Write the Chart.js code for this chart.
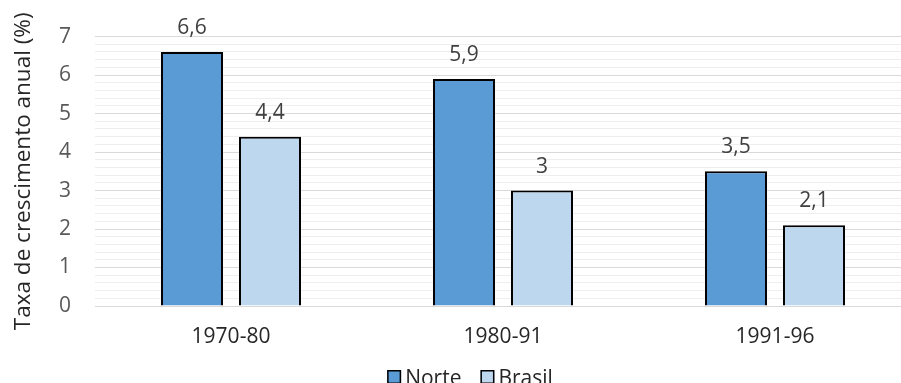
<!DOCTYPE html>
<html>
<head>
<meta charset="utf-8">
<script src="https://cdn.jsdelivr.net/npm/chart.js@4/dist/chart.umd.min.js"></script>
<style>
  html, body { margin: 0; padding: 0; background: #ffffff; overflow: hidden; }
  #frame { width: 901px; height: 383px; overflow: hidden; position: relative; }
  #chart { display: block; }
</style>
</head>
<body>
<div id="frame"><canvas id="chart" width="940" height="395"></canvas></div>
<script>
// Annual growth rates by period
const periods = ['1970-80', '1980-91', '1991-96'];
const norte = [6.6, 5.9, 3.5];
const brasil = [4.4, 3, 2.1];
const yTicks = [0, 1, 2, 3, 4, 5, 6, 7];

const FONT = '"Open Sans", "Noto Sans", sans-serif';
const isMajor = v => yTicks.some(t => Math.abs(t - v) < 1e-6);

// Value labels above each bar, with comma as decimal separator
const valueLabels = {
  id: 'valueLabels',
  afterDatasetsDraw(chart) {
    const ctx = chart.ctx;
    ctx.save();
    ctx.font = '21px ' + FONT;
    ctx.fillStyle = '#404040';
    ctx.textAlign = 'center';
    ctx.textBaseline = 'alphabetic';
    chart.data.datasets.forEach((ds, i) => {
      chart.getDatasetMeta(i).data.forEach((bar, j) => {
        const text = String(ds.data[j]).replace('.', ',');
        ctx.fillText(text, bar.x, bar.y - 18);
      });
    });
    ctx.restore();
  }
};

// Compact legend under the axis: square swatch, small gap, series name
const compactLegend = {
  id: 'compactLegend',
  afterDraw(chart) {
    const ctx = chart.ctx;
    const box = 14, gap = 4, itemGap = 19;
    ctx.save();
    ctx.font = '21px ' + FONT;
    const items = chart.data.datasets.map(ds => ({
      text: ds.label, fill: ds.backgroundColor, w: ctx.measureText(ds.label).width
    }));
    const total = items.reduce((s, it) => s + box + gap + it.w, 0) + itemGap * (items.length - 1);
    let x = chart.width / 2 - total / 2;
    const top = chart.chartArea.bottom + 64;
    ctx.textBaseline = 'alphabetic';
    ctx.textAlign = 'left';
    items.forEach(it => {
      ctx.fillStyle = it.fill;
      ctx.fillRect(x, top, box, box);
      ctx.strokeStyle = '#000000';
      ctx.lineWidth = 1.5;
      ctx.strokeRect(x + 0.75, top + 0.75, box - 1.5, box - 1.5);
      ctx.fillStyle = '#262626';
      ctx.fillText(it.text, x + box + gap, top + 15);
      x += box + gap + it.w + itemGap;
    });
    ctx.restore();
  }
};

new Chart(document.getElementById('chart'), {
  type: 'bar',
  data: {
    labels: periods,
    datasets: [
      { label: 'Norte', data: norte, backgroundColor: '#5B9BD5', borderColor: '#000000', borderWidth: 2 },
      { label: 'Brasil', data: brasil, backgroundColor: '#BDD7EE', borderColor: '#000000', borderWidth: 2 }
    ]
  },
  options: {
    responsive: false,
    animation: false,
    events: [],
    layout: { padding: { top: 31, right: 29, left: 0, bottom: 41 } },
    datasets: { bar: { categoryPercentage: 0.5735, barPercentage: 0.795 } },
    plugins: {
      tooltip: { enabled: false },
      legend: { display: false }
    },
    scales: {
      x: {
        grid: { display: false, drawTicks: false },
        border: { display: true, color: '#d9d9d9', width: 1 },
        ticks: { font: { family: FONT, size: 21 }, color: '#262626', padding: 18, maxRotation: 0 },
        afterFit(scale) { scale.height = 48; }
      },
      y: {
        min: 0,
        max: 7,
        border: { display: false },
        grid: {
          drawTicks: false,
          color: c => isMajor(c.tick.value) ? '#d9d9d9' : '#eeeeee',
          lineWidth: 1
        },
        ticks: {
          stepSize: 0.2,
          autoSkip: false,
          padding: 24,
          color: '#595959',
          font: { family: FONT, size: 21 },
          callback: v => isMajor(v) ? String(Math.round(v)) : ''
        },
        title: {
          display: true,
          text: 'Taxa de crescimento anual (%)',
          color: '#262626',
          font: { family: FONT, size: 22.5 },
          padding: { top: 10, bottom: 0 }
        },
        afterFit(scale) { scale.width = 95; }
      }
    }
  },
  plugins: [valueLabels, compactLegend]
});
</script>
</body>
</html>
